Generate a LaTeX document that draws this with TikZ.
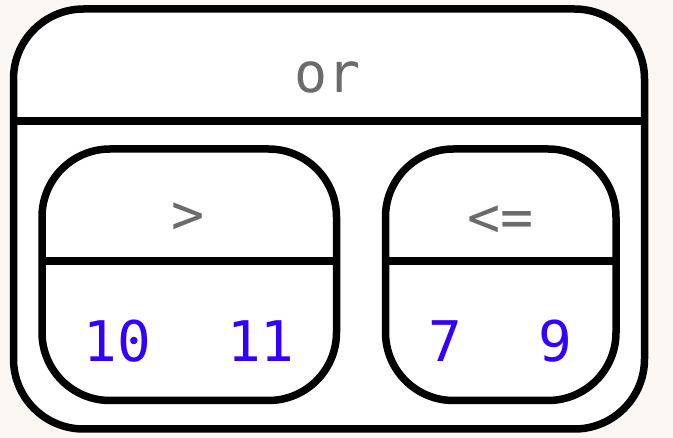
\documentclass[tikz,border=0pt]{standalone}
\usepackage{fontspec}
\newfontfamily\monofam{DejaVu Sans Mono}
\definecolor{bgc}{HTML}{FBF7F3}
\definecolor{labelgray}{HTML}{6B6B6B}
\definecolor{numblue}{HTML}{3300FF}
\begin{document}
\begin{tikzpicture}[x=1pt,y=-1pt,
  box/.style={draw=black, line width=7.5pt, fill=white, rounded corners=#1, inner sep=0pt, outer sep=0pt},
  divider/.style={draw=black, line width=7.5pt},
  optext/.style={text=labelgray, font=\monofam\fontsize{55}{60}\selectfont, inner sep=0pt},
  numtext/.style={text=numblue, font=\monofam\fontsize{56}{60}\selectfont, inner sep=0pt}]
\fill[bgc] (0,0) rectangle (673,438);
\useasboundingbox (0,0) rectangle (673,438);
% outer box
\node[box=70pt, minimum width=631pt, minimum height=420pt] (outer) at (329,219) {};
\coordinate (odiv) at (0,121);
\draw[divider] (outer.west |- odiv) -- (outer.east |- odiv);
\node[optext] (ortext) at (327.5,77) {or};
% inner box 1
\node[box=68pt, minimum width=294.5pt, minimum height=251.5pt] (boxa) at (189.25,274.75) {};
\coordinate (idiv) at (0,261);
\draw[divider] (boxa.west |- idiv) -- (boxa.east |- idiv);
\node[optext] (gt) at (188,218) {>};
\node[numtext] (ten) at (117.5,341) {10};
\node[numtext] (eleven) at (261,341) {11};
% inner box 2
\node[box=68pt, minimum width=230.5pt, minimum height=251.5pt] (boxb) at (500.75,274.75) {};
\draw[divider] (boxb.west |- idiv) -- (boxb.east |- idiv);
\node[optext] (le) at (501,221) {<=};
\node[numtext] (seven) at (445,341) {7};
\node[numtext] (nine) at (555,341) {9};
\end{tikzpicture}
\end{document}
